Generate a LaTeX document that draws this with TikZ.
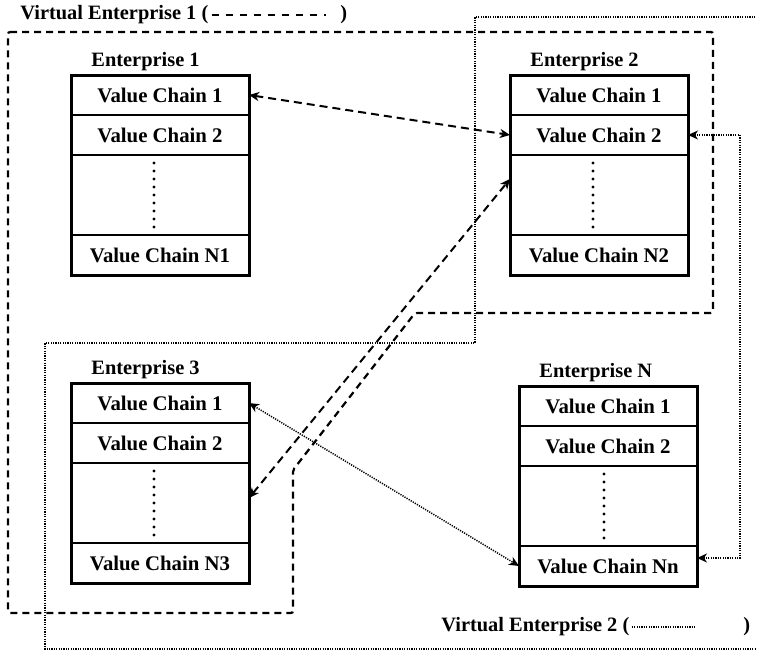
\documentclass[tikz,border=0pt]{standalone}
\usepackage{fontspec}
\setmainfont{Liberation Serif}
\usetikzlibrary{positioning,calc,arrows.meta}

\tikzset{
  chain/.style={draw,line width=0.6pt,minimum width=89pt,minimum height=20pt,inner sep=0pt,outer sep=0pt,font=\fontsize{10.4}{12}\bfseries},
  gap/.style={chain,minimum height=40pt},
  title/.style={inner sep=0pt,font=\fontsize{10.2}{12}\bfseries},
  frame/.style={line width=1.5pt},
  dots/.style={line width=1.6pt,line cap=round,dash pattern=on 0pt off 4pt},
  velink/.style={line width=1pt,dash pattern=on 4pt off 2.5pt},
  veone/.style={line width=1.1pt,dash pattern=on 3.5pt off 2.5pt},
  vetwo/.style={line width=0.75pt,dash pattern=on 0.6pt off 0.6pt},
  legdash/.style={line width=0.9pt,dash pattern=on 3.5pt off 3.5pt},
}

\begin{document}
\begin{tikzpicture}[x=0.5pt,y=-0.5pt,>={Stealth[length=5pt,width=4.5pt,inset=1.5pt]}]
	\useasboundingbox (0,0) rectangle (757,653);

	% Enterprise 1
	\node[chain,anchor=north west] (e1a) at (71,75) {Value Chain 1};
	\node[chain,below=0pt of e1a] (e1b) {Value Chain 2};
	\node[gap,below=0pt of e1b] (e1c) {};
	\node[chain,below=0pt of e1c] (e1d) {Value Chain N1};
	\draw[frame] (e1a.north west) rectangle (e1d.south east);
	\draw[dots] ([xshift=-3pt,yshift=-4pt]e1c.north) -- ([xshift=-3pt,yshift=3.8pt]e1c.south);
	\node[title,above right=2pt and 10pt of e1a.north west] (t1) {Enterprise 1};

	% Enterprise 2
	\node[chain,anchor=north west] (e2a) at (510,75) {Value Chain 1};
	\node[chain,below=0pt of e2a] (e2b) {Value Chain 2};
	\node[gap,below=0pt of e2b] (e2c) {};
	\node[chain,below=0pt of e2c] (e2d) {Value Chain N2};
	\draw[frame] (e2a.north west) rectangle (e2d.south east);
	\draw[dots] ([xshift=-3pt,yshift=-4pt]e2c.north) -- ([xshift=-3pt,yshift=3.8pt]e2c.south);
	\node[title,above right=2pt and 10pt of e2a.north west] (t2) {Enterprise 2};

	% Enterprise 3
	\node[chain,anchor=north west] (e3a) at (71,383) {Value Chain 1};
	\node[chain,below=0pt of e3a] (e3b) {Value Chain 2};
	\node[gap,below=0pt of e3b] (e3c) {};
	\node[chain,below=0pt of e3c] (e3d) {Value Chain N3};
	\draw[frame] (e3a.north west) rectangle (e3d.south east);
	\draw[dots] ([xshift=-3pt,yshift=-4pt]e3c.north) -- ([xshift=-3pt,yshift=3.8pt]e3c.south);
	\node[title,above right=2pt and 10pt of e3a.north west] (t3) {Enterprise 3};

	% Enterprise N
	\node[chain,anchor=north west] (e4a) at (519,386) {Value Chain 1};
	\node[chain,below=0pt of e4a] (e4b) {Value Chain 2};
	\node[gap,below=0pt of e4b] (e4c) {};
	\node[chain,below=0pt of e4c] (e4d) {Value Chain Nn};
	\draw[frame] (e4a.north west) rectangle (e4d.south east);
	\draw[dots] ([xshift=-2pt,yshift=-4pt]e4c.north) -- ([xshift=-2pt,yshift=3.8pt]e4c.south);
	\node[title,above right=2pt and 10pt of e4a.north west] (t4) {Enterprise N};

	% virtual enterprise 1
	\draw[veone,rounded corners=1pt] (8,32) -- (713,32) -- (713,313) -- (415,313) -- (293,470) -- (293,613) -- (8,613) -- cycle;
	\draw[velink,<->] (e1a.east) -- (e2b.west);
	\draw[velink,<->] ([yshift=2.5pt]e3c.east) -- ([yshift=8pt]e2c.west);

	% virtual enterprise 2
	\draw[vetwo] (765,17) -- (475,17) -- (475,343) -- (45,343) -- (45,649) -- (765,649);
	\draw[vetwo,<->] (e3a.east) -- (e4d.west);
	\coordinate (bend) at (740,0);
	\draw[vetwo,<->] (e2b.east) -- (e2b.east -| bend) |- ([yshift=4pt]e4d.east);

	% legends
	\node[title,anchor=west] (ve1) at (20,15) {Virtual Enterprise 1 (};
	\node[title,anchor=west] (ve1r) at (340,15) {)};
	\draw[legdash] ([xshift=1.5pt]ve1.east) -- ([xshift=-7pt]ve1r.west);
	\node[title,anchor=west] (ve2) at (441,627) {Virtual Enterprise 2 (};
	\node[title,anchor=west] (ve2r) at (743,627) {)};
	\draw[vetwo] ([xshift=1pt]ve2.east) -- ([xshift=-24pt]ve2r.west);
\end{tikzpicture}
\end{document}
